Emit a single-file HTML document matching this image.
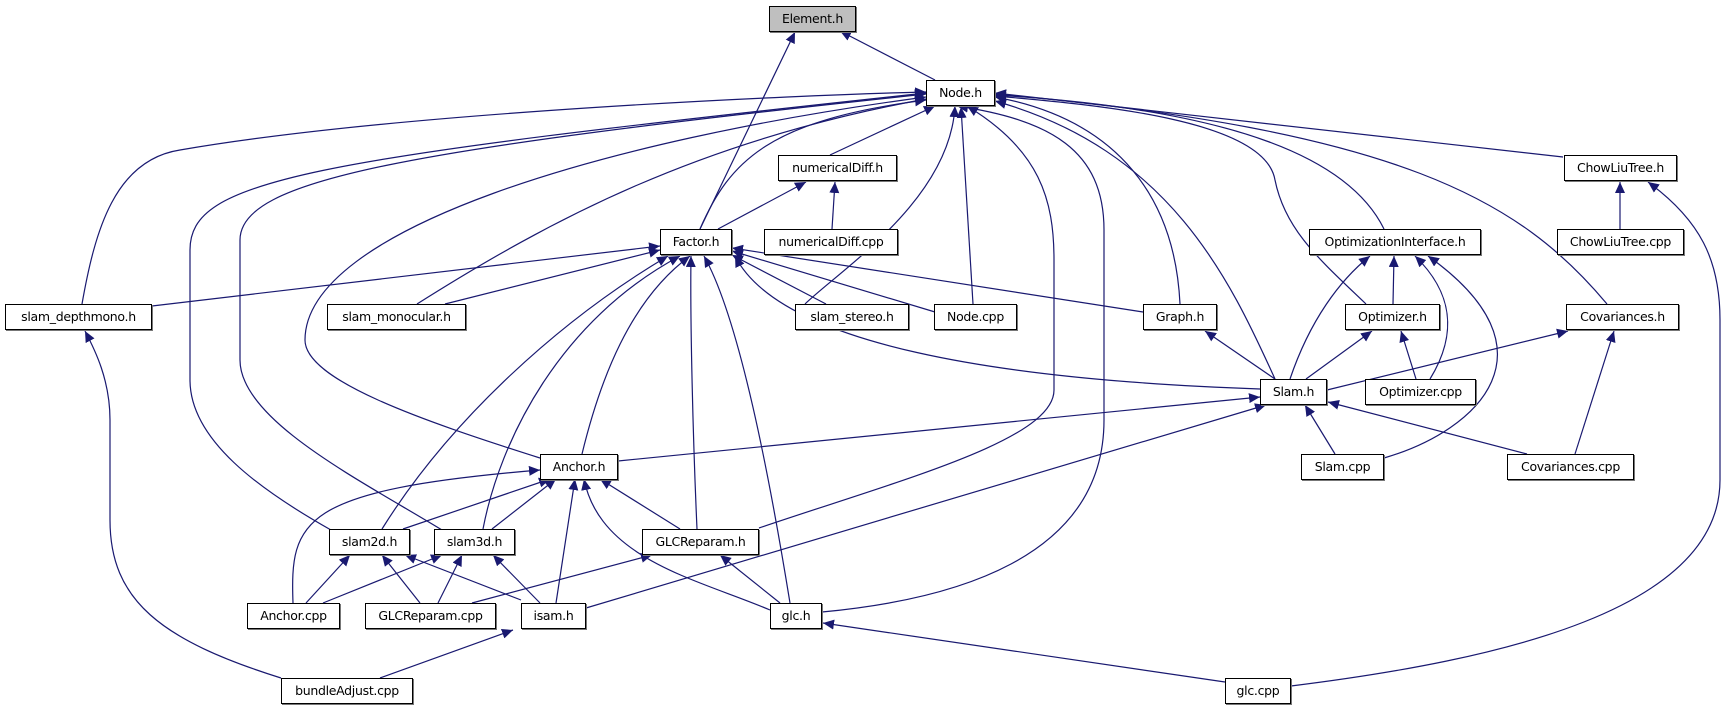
<!DOCTYPE html>
<html><head><meta charset="utf-8"><style>
html,body{margin:0;padding:0;background:#fff;}
#c{position:relative;width:1723px;height:709px;overflow:hidden;}
svg{position:absolute;left:0;top:0;}
.n{position:absolute;box-sizing:border-box;border:1px solid #000;background:#fff;font-family:"DejaVu Sans","Liberation Sans",sans-serif;font-size:12.5px;text-align:center;line-height:23px;height:26px;box-shadow:1px 1px 0 #777;letter-spacing:-0.3px;color:#000;white-space:nowrap;}
</style></head><body><div id="c">
<svg width="1723" height="709" viewBox="0 0 1723 709">
<defs><marker id="a" markerUnits="userSpaceOnUse" markerWidth="12" markerHeight="10" refX="11" refY="5" orient="auto"><path d="M0,0 L11,5 L0,10 z" fill="#191970"/></marker></defs>
<g fill="none" stroke="#191970" stroke-width="1.2" marker-end="url(#a)">
<path d="M935,80 L840,31"/>
<path d="M700,229 L795,32"/>
<path d="M700,229 C730,160 770,120 926,100"/>
<path d="M830,155 L935,106"/>
<path d="M832,229 L835,182"/>
<path d="M718,229 L806,182"/>
<path d="M82,304 C95,230 115,160 180,150 C400,112 800,95 926,92"/>
<path d="M331,530 C260,490 190,440 190,380 L190,250 C190,180 300,160 926,93"/>
<path d="M442,530 C360,480 240,420 240,360 L240,240 C240,180 400,150 926,94"/>
<path d="M540,458 C420,420 305,380 305,340 C305,230 600,140 926,97"/>
<path d="M417,304 C550,220 700,140 926,99"/>
<path d="M445,304 L660,250"/>
<path d="M152,306 L660,246"/>
<path d="M805,304 C840,270 950,200 955,106"/>
<path d="M826,304 L732,255"/>
<path d="M973,304 L961,107"/>
<path d="M935,312 L732,251"/>
<path d="M1180,304 C1175,200 1120,120 995,97"/>
<path d="M1143,312 L732,248"/>
<path d="M1275,379 C1230,280 1170,150 995,101"/>
<path d="M1260,389 C1000,380 780,345 735,256"/>
<path d="M618,461 L1260,397"/>
<path d="M586,608 L1266,405"/>
<path d="M1306,379 L1372,331"/>
<path d="M1290,379 C1310,320 1340,280 1370,256"/>
<path d="M1327,390 L1568,331"/>
<path d="M1275,379 L1205,331"/>
<path d="M1366,304 C1320,260 1285,230 1275,180 C1265,120 1100,105 995,96"/>
<path d="M1384,229 C1350,160 1240,110 995,95"/>
<path d="M1393,304 L1394,256"/>
<path d="M1416,379 L1401,331"/>
<path d="M1430,379 C1460,330 1450,290 1415,256"/>
<path d="M1384,458 C1480,430 1560,350 1428,256"/>
<path d="M1607,304 C1520,200 1400,130 995,94"/>
<path d="M1563,157 L995,93"/>
<path d="M1620,229 L1620,182"/>
<path d="M1291,686 C1500,660 1720,610 1720,480 L1720,320 C1720,260 1700,220 1648,182"/>
<path d="M1225,682 L823,623"/>
<path d="M822,612 C950,600 1104,560 1104,420 L1104,230 C1104,150 1050,120 957,106"/>
<path d="M759,528 C900,480 1054,440 1054,390 L1054,260 C1054,200 1040,150 967,106"/>
<path d="M382,529 C450,420 560,320 668,256"/>
<path d="M483,529 C500,440 560,320 680,256"/>
<path d="M582,454 C600,380 630,300 690,256"/>
<path d="M697,529 C693,440 690,320 691,256"/>
<path d="M790,603 C770,480 740,320 704,256"/>
<path d="M293,603 C290,520 300,490 540,470"/>
<path d="M403,529 L550,479"/>
<path d="M492,529 L556,479"/>
<path d="M556,603 L575,479"/>
<path d="M770,610 C700,580 600,560 584,479"/>
<path d="M680,529 L600,479"/>
<path d="M306,603 L350,555"/>
<path d="M420,603 L382,555"/>
<path d="M521,600 L405,555"/>
<path d="M323,603 L442,555"/>
<path d="M438,603 L462,555"/>
<path d="M540,603 L493,555"/>
<path d="M472,603 L652,555"/>
<path d="M780,603 L720,555"/>
<path d="M380,678 L513,630"/>
<path d="M281,678 C160,640 110,600 110,520 L110,420 C110,380 95,350 85,331"/>
<path d="M1335,454 L1305,405"/>
<path d="M1527,454 L1328,402"/>
<path d="M1575,454 L1614,331"/>
</g>
</svg>
<div class="n" style="left:769px;top:6px;width:87px;background:#bfbfbf">Element.h</div>
<div class="n" style="left:926px;top:80px;width:69px">Node.h</div>
<div class="n" style="left:778px;top:155px;width:119px">numericalDiff.h</div>
<div class="n" style="left:1564px;top:155px;width:113px">ChowLiuTree.h</div>
<div class="n" style="left:660px;top:229px;width:72px">Factor.h</div>
<div class="n" style="left:764px;top:229px;width:134px">numericalDiff.cpp</div>
<div class="n" style="left:1309px;top:229px;width:172px">OptimizationInterface.h</div>
<div class="n" style="left:1557px;top:229px;width:127px">ChowLiuTree.cpp</div>
<div class="n" style="left:5px;top:304px;width:147px">slam_depthmono.h</div>
<div class="n" style="left:327px;top:304px;width:139px">slam_monocular.h</div>
<div class="n" style="left:795px;top:304px;width:114px">slam_stereo.h</div>
<div class="n" style="left:934px;top:304px;width:83px">Node.cpp</div>
<div class="n" style="left:1143px;top:304px;width:74px">Graph.h</div>
<div class="n" style="left:1345px;top:304px;width:95px">Optimizer.h</div>
<div class="n" style="left:1566px;top:304px;width:113px">Covariances.h</div>
<div class="n" style="left:1260px;top:379px;width:67px">Slam.h</div>
<div class="n" style="left:1365px;top:379px;width:111px">Optimizer.cpp</div>
<div class="n" style="left:540px;top:454px;width:78px">Anchor.h</div>
<div class="n" style="left:1301px;top:454px;width:83px">Slam.cpp</div>
<div class="n" style="left:1507px;top:454px;width:127px">Covariances.cpp</div>
<div class="n" style="left:329px;top:529px;width:81px">slam2d.h</div>
<div class="n" style="left:434px;top:529px;width:81px">slam3d.h</div>
<div class="n" style="left:642px;top:529px;width:117px">GLCReparam.h</div>
<div class="n" style="left:247px;top:603px;width:93px">Anchor.cpp</div>
<div class="n" style="left:365px;top:603px;width:131px">GLCReparam.cpp</div>
<div class="n" style="left:521px;top:603px;width:65px">isam.h</div>
<div class="n" style="left:770px;top:603px;width:52px">glc.h</div>
<div class="n" style="left:281px;top:678px;width:132px">bundleAdjust.cpp</div>
<div class="n" style="left:1225px;top:678px;width:66px">glc.cpp</div>
</div></body></html>
